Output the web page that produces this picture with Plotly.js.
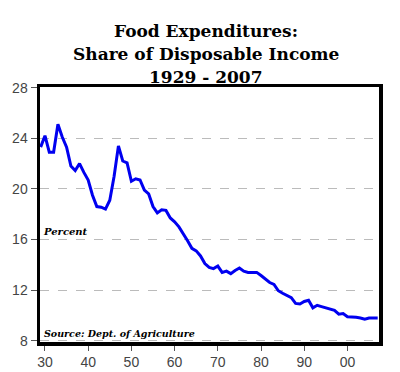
<!DOCTYPE html>
<html>
<head>
<meta charset="utf-8">
<script src="https://cdn.plot.ly/plotly-3.0.1.min.js"></script>
<style>html,body{margin:0;padding:0;background:#fff;}#chart{width:400px;height:372px;}</style>
</head>
<body>
<div id="chart"></div>
<script>
const years = [];
for (let y = 1929; y <= 2007; y++) years.push(y);
const foodShare = [
  23.3, 24.2, 22.9, 22.9, 25.1, 24.1, 23.3, 21.8, 21.45, 22.0,
  21.3, 20.7, 19.5, 18.6, 18.55, 18.4, 19.1, 21.0, 23.4, 22.2,
  22.05, 20.6, 20.8, 20.7, 19.9, 19.6, 18.6, 18.1, 18.35, 18.3,
  17.7, 17.4, 17.0, 16.5, 15.9, 15.3, 15.1, 14.7, 14.1, 13.8,
  13.7, 13.9, 13.4, 13.5, 13.3, 13.55, 13.75, 13.5, 13.4, 13.4,
  13.4, 13.15, 12.9, 12.6, 12.45, 11.95, 11.75, 11.6, 11.4, 10.95,
  10.9, 11.1, 11.2, 10.6, 10.8, 10.7, 10.6, 10.45, 10.4, 10.1,
  10.15, 9.9, 9.9, 9.85, 9.8, 9.7, 9.8, 9.8, 9.8
];
const xTickVals = [1930, 1940, 1950, 1960, 1970, 1980, 1990, 2000];
const xTickText = ["30", "40", "50", "60", "70", "80", "90", "00"];
const yTickVals = [8, 12, 16, 20, 24, 28];
const titleLines = ["Food Expenditures:", "Share of Disposable Income", "1929 - 2007"];
const titleY = [1.2196, 1.1294, 1.0392];

const trace = {
  x: years, y: foodShare, type: 'scatter', mode: 'lines',
  line: {color: '#0000f0', width: 3}, hoverinfo: 'skip'
};

const titleAnns = titleLines.map((t, i) => ({
  text: '<b>' + t + '</b>', xref: 'paper', yref: 'paper', x: 0.49, y: titleY[i],
  xanchor: 'center', yanchor: 'middle', showarrow: false,
  font: {family: 'DejaVu Serif', size: 17, color: '#000'}
}));

const layout = {
  width: 400, height: 372,
  margin: {l: 40, r: 21, t: 87, b: 30},
  paper_bgcolor: '#fff', plot_bgcolor: '#fff',
  showlegend: false,
  xaxis: {
    range: [1928.85, 2007.3], tickvals: xTickVals, ticktext: xTickText,
    showgrid: false, zeroline: false,
    showline: true, linewidth: 3.5, linecolor: '#000', mirror: true,
    ticks: 'outside', ticklen: 5, tickwidth: 1, tickcolor: '#555',
    tickfont: {family: 'Liberation Sans', size: 14, color: '#444'}
  },
  yaxis: {
    range: [7.9, 28.05], tickvals: yTickVals,
    showgrid: true, gridcolor: '#bbb', gridwidth: 1, griddash: 'dash',
    zeroline: false,
    showline: true, linewidth: 3.5, linecolor: '#000', mirror: true,
    ticks: 'outside', ticklen: 6, tickwidth: 1, tickcolor: '#555',
    tickfont: {family: 'Liberation Sans', size: 14, color: '#444'}
  },
  annotations: titleAnns.concat([
    {text: '<b><i>Percent</i></b>', xref: 'paper', yref: 'y', x: 0.003, y: 16.6,
     xanchor: 'left', yanchor: 'middle', showarrow: false,
     font: {family: 'DejaVu Serif', size: 10, color: '#000'}},
    {text: '<b><i>Source: Dept. of Agriculture</i></b>', xref: 'paper', yref: 'y', x: 0.005, y: 8.6,
     xanchor: 'left', yanchor: 'middle', showarrow: false,
     font: {family: 'DejaVu Serif', size: 9.5, color: '#000'}}
  ])
};

Plotly.newPlot('chart', [trace], layout, {displayModeBar: false, staticPlot: true});
</script>
</body>
</html>
